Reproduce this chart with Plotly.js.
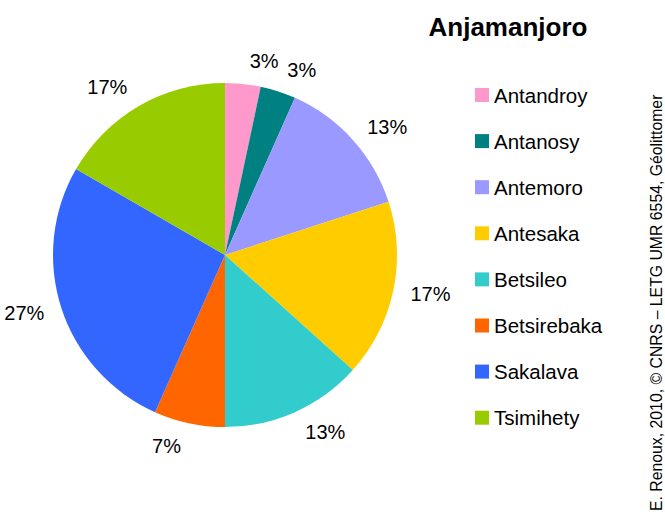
<!DOCTYPE html>
<html>
<head>
<meta charset="utf-8">
<script src="https://cdn.plot.ly/plotly-3.0.1.min.js"></script>
<style>html,body{margin:0;padding:0;background:#fff;}#chart{width:665px;height:517px;}</style>
</head>
<body>
<div id="chart"></div>
<script>
const labels = ['Antandroy','Antanosy','Antemoro','Antesaka','Betsileo','Betsirebaka','Sakalava','Tsimihety'];
const counts = [1, 1, 4, 5, 4, 2, 8, 5];
const colors = ['#FF99CC','#008080','#9999FF','#FFCC00','#33CCCC','#FF6600','#3366FF','#99CC00'];
const chartTitle = 'Anjamanjoro';
const credit = 'E. Renoux, 2010, © CNRS – LETG UMR 6554, Géolittomer';

const W = 665, H = 517;
const FONT = 'Liberation Sans, Arial, sans-serif';
const cx = 225, cy0 = 255, R = 172, Rlab = 184;

// filled pie (no text)
const pie = {
  type: 'pie',
  labels: labels,
  values: counts,
  sort: false,
  direction: 'clockwise',
  rotation: 0,
  marker: {colors: colors, line: {width: 0}},
  textinfo: 'none',
  hoverinfo: 'label+percent',
  showlegend: false,
  domain: {x: [(cx-R)/W, (cx+R)/W], y: [(H-cy0-R)/H, (H-cy0+R)/H]}
};
// same data, transparent and slightly larger, only to carry the outside percent labels.
// Split in two traces so neighbouring small-slice labels are not pushed apart with leader lines.
function labelPie(showIdx) {
  return {
    type: 'pie',
    labels: labels,
    values: counts,
    sort: false,
    direction: 'clockwise',
    rotation: 0,
    marker: {colors: labels.map(() => 'rgba(0,0,0,0)'), line: {width: 0}},
    textposition: labels.map((_, i) => showIdx(i) ? 'outside' : 'none'),
    texttemplate: '%{percent:.0%}',
    textfont: {family: FONT, size: 20, color: '#000'},
    hoverinfo: 'skip',
    showlegend: false,
    domain: {x: [(cx-Rlab)/W, (cx+Rlab)/W], y: [(H-cy0-Rlab)/H, (H-cy0+Rlab)/H]}
  };
}
const labelsA = labelPie(i => i !== 1);
const labelsB = labelPie(i => i === 1);

// legend drawn as shapes + annotations, one entry per category
const shapes = [];
const annotations = [];
const legTop = 95, legStep = 46.1, sq = 14, sqX = 475;
labels.forEach((lab, i) => {
  const cy = legTop + i * legStep;
  shapes.push({type: 'rect', xref: 'paper', yref: 'paper',
    x0: sqX/W, x1: (sqX+sq)/W, y0: 1-(cy+sq/2)/H, y1: 1-(cy-sq/2)/H,
    fillcolor: colors[i], line: {width: 0}});
  annotations.push({xref: 'paper', yref: 'paper', x: 492/W, y: 1-cy/H,
    xanchor: 'left', yanchor: 'middle', showarrow: false, text: lab,
    font: {family: FONT, size: 20.5, color: '#000'}});
});
annotations.push({xref: 'paper', yref: 'paper', x: 656/W, y: 1-93/H,
  xanchor: 'center', yanchor: 'top', showarrow: false, textangle: -90,
  text: credit, font: {family: FONT, size: 15.8, color: '#000'}});

const layout = {
  width: W, height: H,
  margin: {l: 0, r: 0, t: 0, b: 0},
  paper_bgcolor: '#fff', plot_bgcolor: '#fff',
  title: {text: '<b>' + chartTitle + '</b>', x: 508/W, xanchor: 'center', y: 1-27/H, yanchor: 'middle',
    font: {family: FONT, size: 26, color: '#000'}},
  shapes: shapes,
  annotations: annotations
};

Plotly.newPlot('chart', [pie, labelsA, labelsB], layout, {displayModeBar: false, staticPlot: true});
</script>
</body>
</html>
